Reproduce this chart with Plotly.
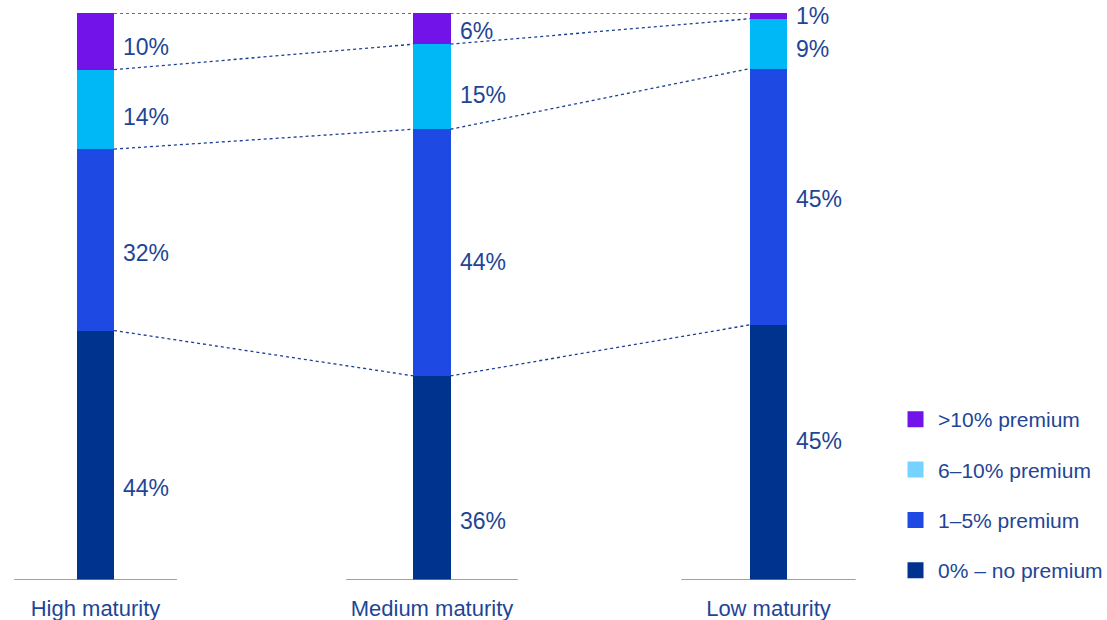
import plotly.graph_objects as go

categories = ["High maturity", "Medium maturity", "Low maturity"]
series_names = ["0% – no premium", "1–5% premium", "6–10% premium", ">10% premium"]
no_premium = [44, 36, 45]
premium_1_5 = [32, 43.5, 45.2]
premium_6_10 = [14, 15, 8.8]
premium_10_plus = [10, 5.5, 1]
label_no_premium = ["44%", "36%", "45%"]
label_1_5 = ["32%", "44%", "45%"]
label_6_10 = ["14%", "15%", "9%"]
label_10_plus = ["10%", "6%", "1%"]

series = [no_premium, premium_1_5, premium_6_10, premium_10_plus]
labels = [label_no_premium, label_1_5, label_6_10, label_10_plus]

# styling: label placement as a fraction of each segment's height (from its bottom)
label_frac = [[0.37, 0.29, 0.545], [0.43, 0.46, 0.49], [0.40, 0.40, 0.39], [0.40, 0.43, 0.46]]
base_half = [0.242, 0.255, 0.259]  # half-width of each baseline rule (axis units)
bar_colors = ["#00338D", "#1E49E2", "#00B8F5", "#7213EA"]
legend_colors = ["#00338D", "#1E49E2", "#76D2FF", "#7213EA"]
text_color = "#1E4596"
font_family = "Liberation Sans, Arial, sans-serif"

xs = list(range(len(categories)))
bar_w = 0.11

fig = go.Figure()

# baselines
for x, bh in zip(xs, base_half):
    fig.add_trace(go.Scatter(x=[x - bh, x + bh], y=[0, 0], mode="lines",
                             line=dict(color="#808080", width=1.6), showlegend=False,
                             hoverinfo="skip"))

# stacked bars
for vals, col, name in zip(series, bar_colors, series_names):
    fig.add_trace(go.Bar(x=xs, y=vals, width=bar_w, marker=dict(color=col, line=dict(width=0)),
                         name=name, showlegend=False))

# cumulative boundaries
cum = []
run = [0] * len(xs)
for vals in series:
    run = [r + v for r, v in zip(run, vals)]
    cum.append(list(run))

# dotted connectors
for level in cum:
    for i in range(len(xs) - 1):
        fig.add_trace(go.Scatter(x=[xs[i] + bar_w / 2, xs[i + 1] - bar_w / 2],
                                 y=[level[i], level[i + 1]], mode="lines",
                                 line=dict(color="#1C3F94", width=1.3, dash="dot"),
                                 showlegend=False, hoverinfo="skip"))

# value labels
bottom = [0] * len(xs)
for vals, labs, fr in zip(series, labels, label_frac):
    for i, x in enumerate(xs):
        fig.add_annotation(x=x + bar_w / 2, y=bottom[i] + vals[i] * fr[i], text=labs[i],
                           showarrow=False, xanchor="left", yanchor="middle", xshift=7,
                           font=dict(size=23, color=text_color, family=font_family))
    bottom = [b + v for b, v in zip(bottom, vals)]

# legend entries (top to bottom)
for k in [3, 2, 1, 0]:
    fig.add_trace(go.Scatter(x=[None], y=[None], mode="markers", name=series_names[k],
                             marker=dict(symbol="square", size=16, color=legend_colors[k]),
                             legendgroup=str(k), showlegend=True))

left_px = 95.5
unit_px = 336.5
width_px = 1107
fig.update_layout(
    width=1107, height=620,
    margin=dict(l=0, r=0, t=13, b=40, autoexpand=False),
    paper_bgcolor="white", plot_bgcolor="white",
    barmode="stack",
    bargap=0,
    showlegend=True,
    legend=dict(x=0.8067, y=0.319, xanchor="left", yanchor="top",
                font=dict(size=21, color=text_color, family=font_family),
                tracegroupgap=20, itemsizing="trace", itemwidth=35,
                bgcolor="rgba(0,0,0,0)"),
    xaxis=dict(range=[-left_px / unit_px, (width_px - left_px) / unit_px],
               tickvals=xs, ticktext=categories, showgrid=False, zeroline=False,
               showline=False, ticks="", ticklabelstandoff=13, automargin=False,
               tickfont=dict(size=22, color=text_color, family=font_family)),
    yaxis=dict(range=[0, 100], visible=False, showgrid=False, zeroline=False),
)

fig.write_html("out.html")
